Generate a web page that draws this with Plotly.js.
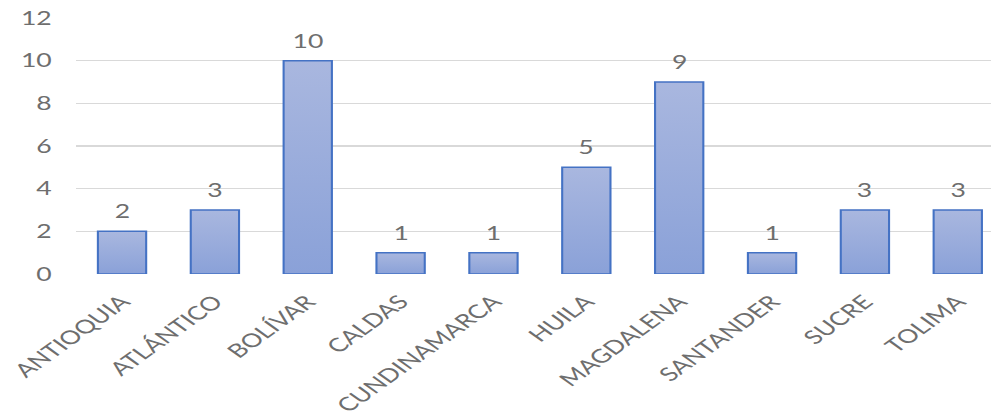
<!DOCTYPE html>
<html>
<head>
<meta charset="utf-8">
<script src="https://cdn.plot.ly/plotly-3.0.1.min.js"></script>
<style>
  html, body { margin: 0; padding: 0; background: #ffffff; overflow: hidden; }
  #wrap { width: 991px; height: 420px; overflow: hidden; }
  /* the chart is laid out narrower and widened horizontally, giving the stretched look */
  #chart { width: 708px; height: 420px; transform: scaleX(1.4); transform-origin: 0 0; }
</style>
</head>
<body>
<div id="wrap"><div id="chart"></div></div>
<script>
// Departments and number of cases per department
const departamentos = ["ANTIOQUIA", "ATLÁNTICO", "BOLÍVAR", "CALDAS", "CUNDINAMARCA",
                       "HUILA", "MAGDALENA", "SANTANDER", "SUCRE", "TOLIMA"];
const casos = [2, 3, 10, 1, 1, 5, 9, 1, 3, 3];
const yTicks = [0, 2, 4, 6, 8, 10, 12];

const textColor = "#6e6e6e";
const fontFamily = "Lato, 'Open Sans', sans-serif";

const trace = {
  type: "bar",
  x: departamentos,
  y: casos,
  marker: { color: "#9aaddb", line: { color: "#4472c4", width: 1.5 } },
  hoverinfo: "x+y"
};

const annotations = departamentos.map((d, i) => ({
  x: d,
  y: casos[i],
  xref: "x",
  yref: "y",
  text: String(casos[i]),
  showarrow: false,
  yanchor: "bottom",
  yshift: 7,
  font: { family: fontFamily, size: 19, color: textColor }
}));

const layout = {
  width: 708,
  height: 420,
  margin: { l: 54, r: 0, t: 18, b: 146 },
  paper_bgcolor: "#ffffff",
  plot_bgcolor: "#ffffff",
  showlegend: false,
  bargap: 0.48,
  font: { family: fontFamily, size: 19, color: textColor },
  xaxis: {
    type: "category",
    range: [-0.5, 9.36],
    tickangle: -45,
    showgrid: false,
    zeroline: false,
    showline: false,
    ticks: "",
    ticklabelstandoff: 12,
    tickfont: { family: fontFamily, size: 19, color: textColor },
    fixedrange: true
  },
  yaxis: {
    range: [0, 12],
    tickvals: yTicks,
    ticktext: yTicks.map(String),
    showgrid: true,
    gridcolor: "#d9d9d9",
    gridwidth: 1.4,
    zeroline: false,
    showline: false,
    ticks: "",
    ticklabelstandoff: 16,
    tickfont: { family: fontFamily, size: 19, color: textColor },
    fixedrange: true
  },
  annotations: annotations
};

Plotly.newPlot("chart", [trace], layout, { displayModeBar: false, staticPlot: true }).then(gd => {
  // vertical gradient fill on the bars: lighter at the top, deeper at the base
  const svg = gd.querySelector("svg.main-svg");
  const ns = "http://www.w3.org/2000/svg";
  let defs = svg.querySelector("defs");
  if (!defs) { defs = document.createElementNS(ns, "defs"); svg.insertBefore(defs, svg.firstChild); }
  const grad = document.createElementNS(ns, "linearGradient");
  grad.setAttribute("id", "barFill");
  grad.setAttribute("x1", "0"); grad.setAttribute("y1", "0");
  grad.setAttribute("x2", "0"); grad.setAttribute("y2", "1");
  [["0", "#a9b7df"], ["1", "#8aa1d8"]].forEach(([off, col]) => {
    const s = document.createElementNS(ns, "stop");
    s.setAttribute("offset", off);
    s.setAttribute("stop-color", col);
    grad.appendChild(s);
  });
  defs.appendChild(grad);
  gd.querySelectorAll(".bars .point path").forEach(p => { p.style.fill = "url(#barFill)"; });
});
</script>
</body>
</html>
